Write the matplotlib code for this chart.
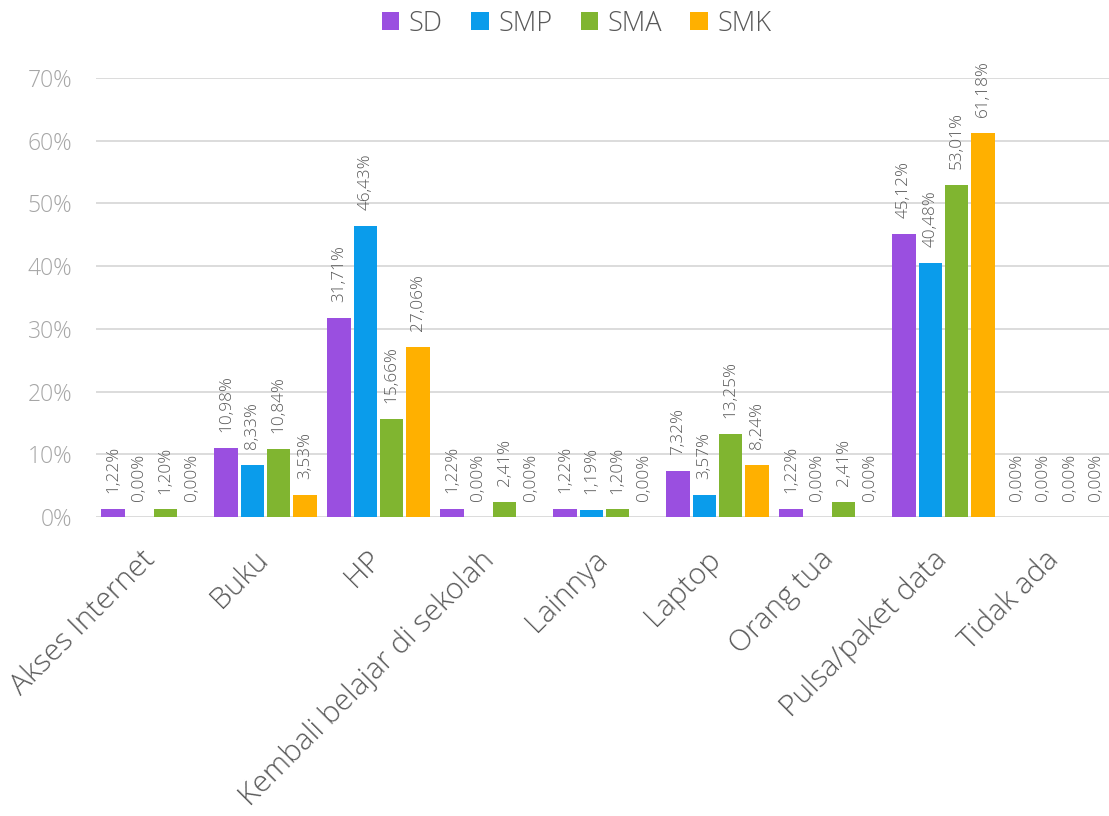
import matplotlib
matplotlib.use("Agg")
import matplotlib.pyplot as plt
import matplotlib.transforms as mtransforms
import numpy as np
from matplotlib.ticker import FuncFormatter

categories = ["Akses Internet", "Buku", "HP", "Kembali belajar di sekolah", "Lainnya",
              "Laptop", "Orang tua", "Pulsa/paket data", "Tidak ada"]
series = ["SD", "SMP", "SMA", "SMK"]
sd = [1.22, 10.98, 31.71, 1.22, 1.22, 7.32, 1.22, 45.12, 0.00]
smp = [0.00, 8.33, 46.43, 0.00, 1.19, 3.57, 0.00, 40.48, 0.00]
sma = [1.20, 10.84, 15.66, 2.41, 1.20, 13.25, 2.41, 53.01, 0.00]
smk = [0.00, 3.53, 27.06, 0.00, 0.00, 8.24, 0.00, 61.18, 0.00]
colors = ["#9A4FE0", "#0A9CEB", "#80B530", "#FFB000"]

plt.rcParams['font.family'] = ['Open Sans', 'DejaVu Sans']

fig = plt.figure(figsize=(11.09, 8.16), dpi=100)
ax = fig.add_axes([96 / 1109, (816 - 517) / 816, (1113 - 96) / 1109, (517 - 78) / 816])

x = np.arange(len(categories))
bw = 0.208
pitch = 0.232
values = [sd, smp, sma, smk]
for i, (name, vals, c) in enumerate(zip(series, values, colors)):
    offs = (i - 1.5) * pitch
    ax.bar(x + offs, vals, bw, color=c, label=name, zorder=3)
    for xi, v in zip(x + offs, vals):
        ax.annotate(f"{v:.2f}%".replace(".", ","), (xi, v), xytext=(0, 11.5),
                    textcoords="offset points", rotation=90, ha="center", va="bottom",
                    fontsize=12.3, fontweight="light", color="#595959")

ax.set_xlim(-0.5, len(categories) - 0.5)
ax.set_ylim(0, 70)
ax.set_yticks(np.arange(0, 71, 10))
ax.yaxis.set_major_formatter(FuncFormatter(lambda v, p: f"{v:.0f}%"))
ax.grid(axis="y", color="#D9D9D9", linewidth=1.3, zorder=0)
ax.tick_params(axis="y", length=0, labelsize=16.5, labelcolor="#A6A6A6", pad=17)
ax.tick_params(axis="x", length=0, labelsize=21.5, labelcolor="#595959", pad=20)
ax.set_xticks(x)
ax.set_xticklabels(categories, rotation=45, ha="right", rotation_mode="anchor")
shift = mtransforms.ScaledTranslation(-12 / 100, 0, fig.dpi_scale_trans)
for lbl in ax.get_xticklabels():
    lbl.set_transform(lbl.get_transform() + shift)
    lbl.set_fontweight("light")
for lbl in ax.get_yticklabels():
    lbl.set_fontweight("light")
for s in ax.spines.values():
    s.set_visible(False)

fig.legend(loc="upper center", bbox_to_anchor=(0.52, 1.018), ncol=4, frameon=False,
           prop={"size": 19.5, "weight": "light"}, handlelength=0.64, handleheight=0.64,
           handletextpad=0.35, columnspacing=1.05, labelcolor="#595959")

fig.savefig("out.png", dpi=100)
